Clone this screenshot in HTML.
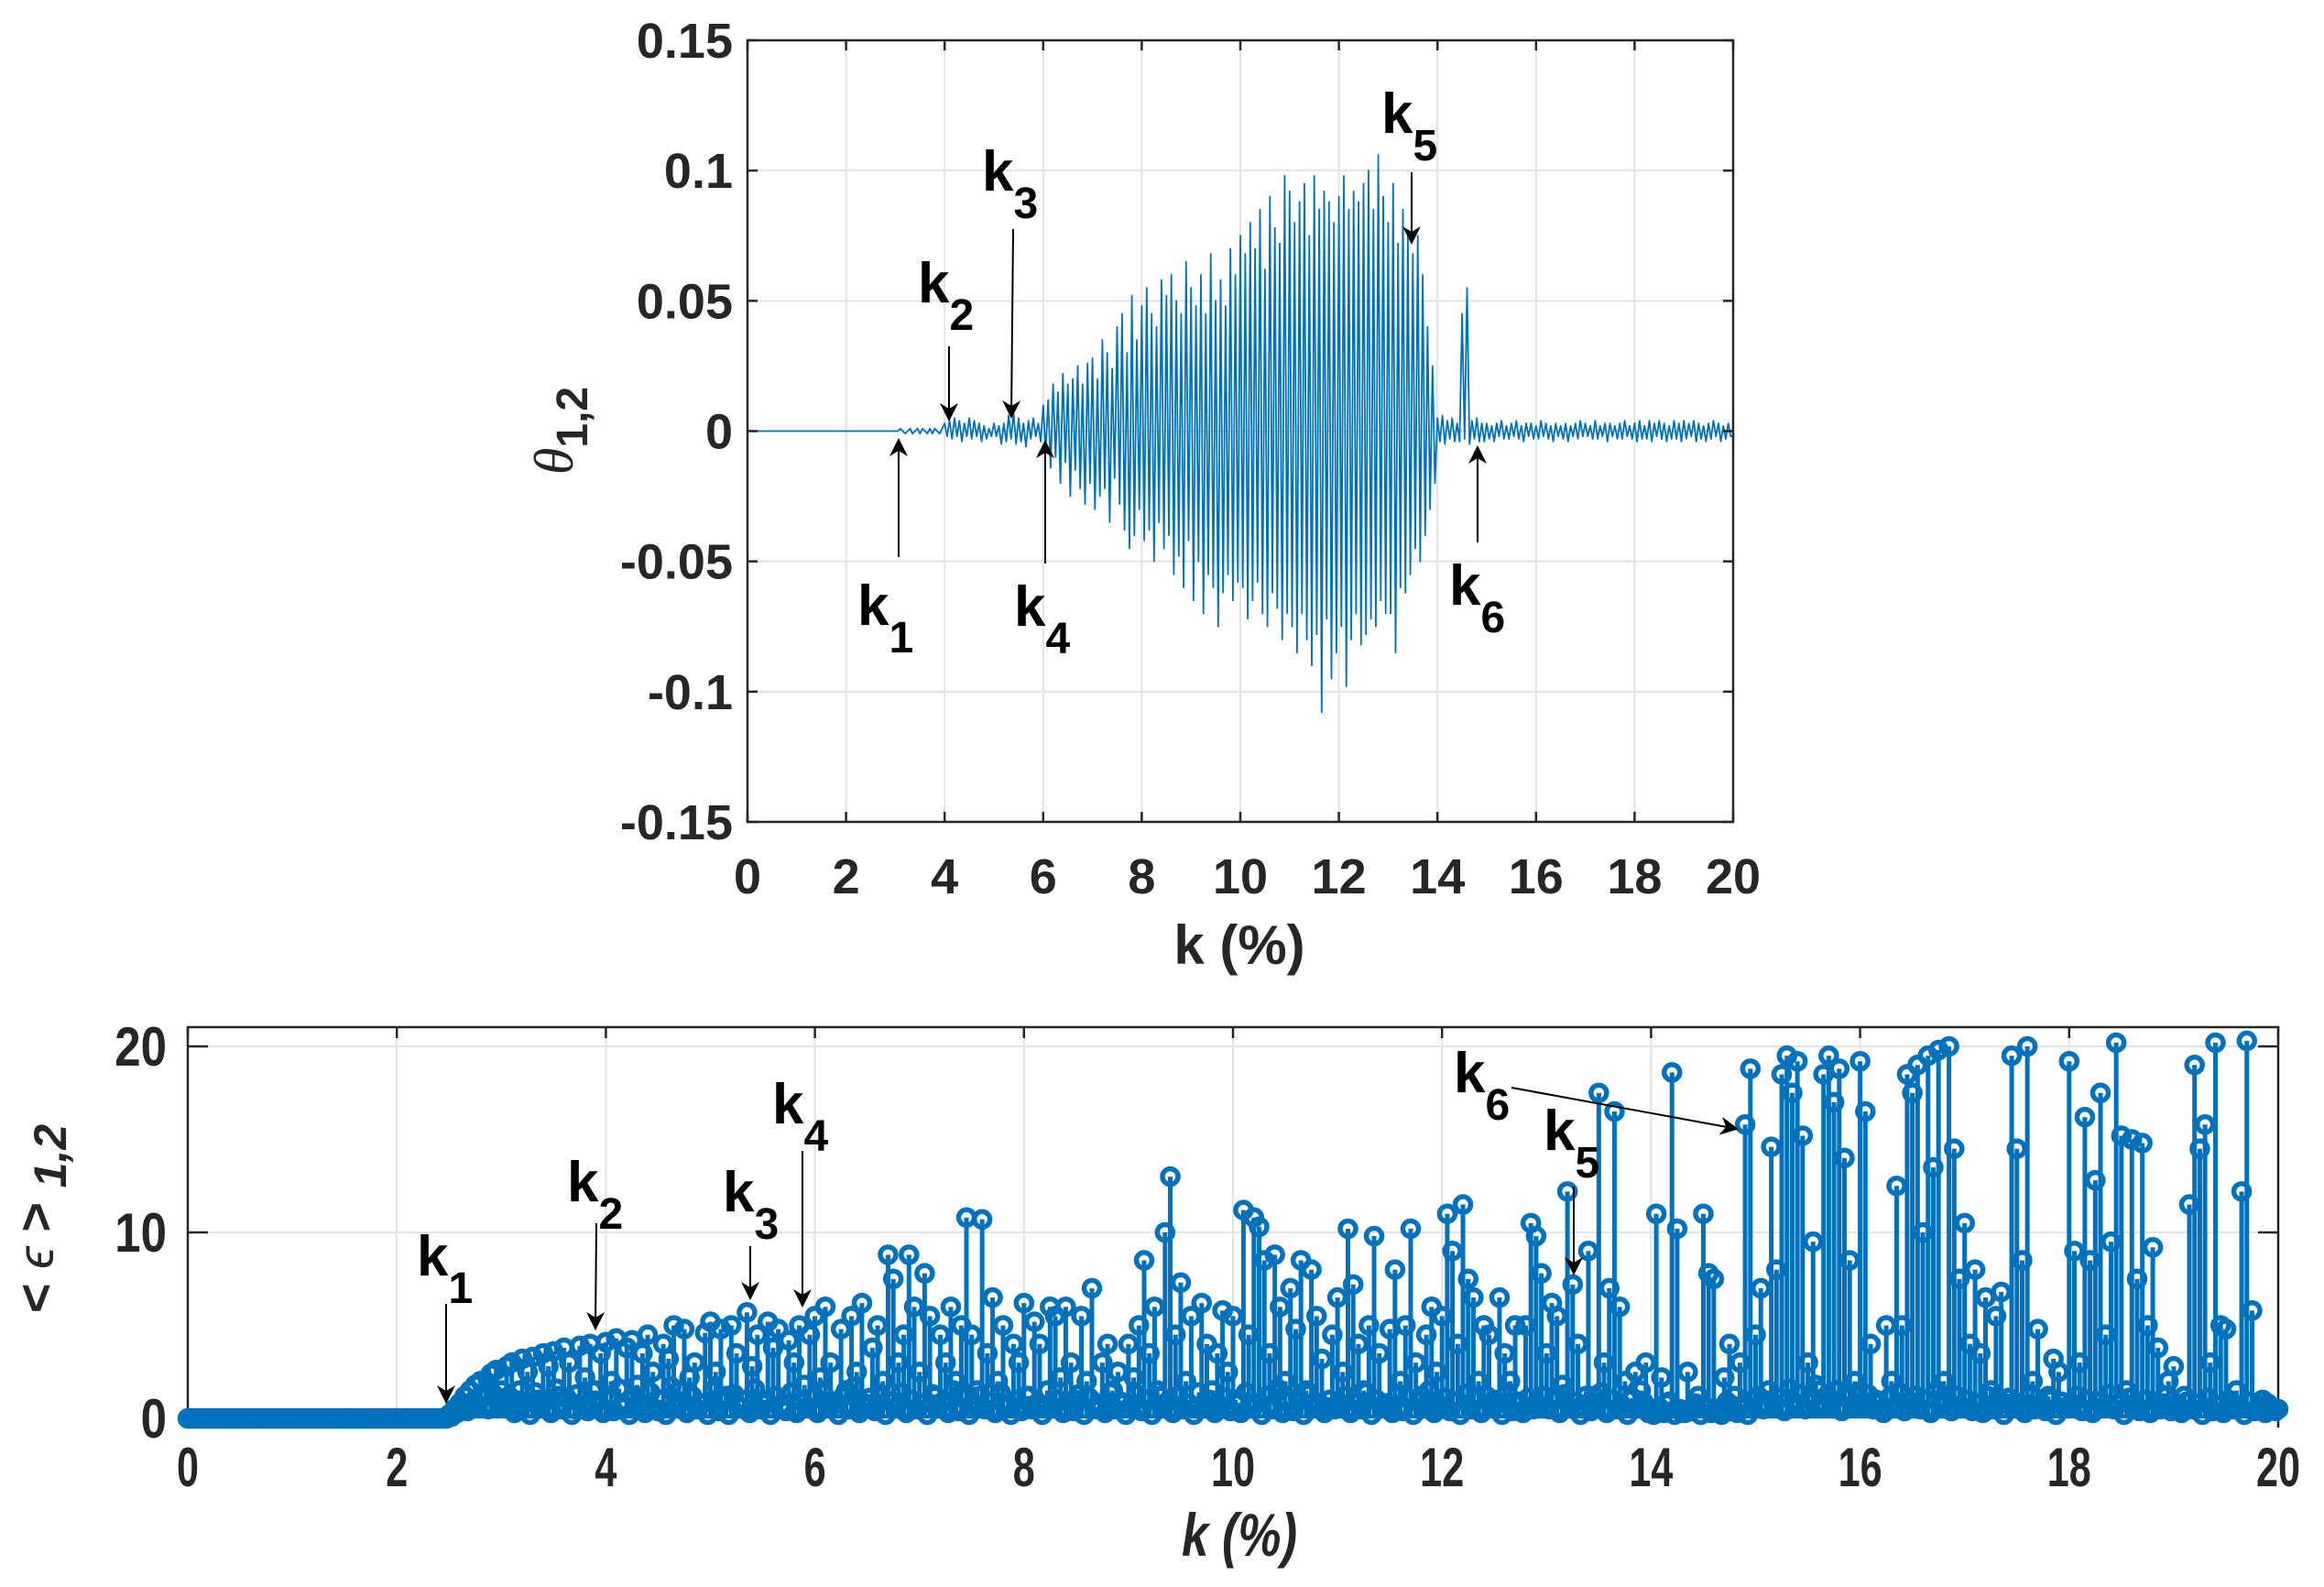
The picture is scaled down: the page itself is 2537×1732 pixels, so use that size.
<!DOCTYPE html>
<html><head><meta charset="utf-8"><style>
html,body{margin:0;padding:0;background:#fff;}
svg{display:block;font-family:"Liberation Sans",Arial,sans-serif;}
</style></head><body>
<svg id="fig" width="2537" height="1732" viewBox="0 0 2537 1732" xmlns="http://www.w3.org/2000/svg">
<defs>
<marker id="ah" viewBox="0 0 10 10" refX="9" refY="5" markerWidth="24" markerHeight="20" orient="auto" markerUnits="userSpaceOnUse">
<path d="M0,0 L10,5 L0,10 L3,5 Z" fill="#000"/>
</marker>
</defs>
<g id="top"></g>
<g id="bot"></g>
</svg>
<script>
// ---------- TOP CHART DATA (theta_1,2 in units of 1e-3, k step 0.05 %) ----------
const thetaStep = 0.05;
const thetaMilli = [
0,0,0,0,0,0,0,0,0,0,0,0,0,0,0,0,0,0,0,0,
0,0,0,0,0,0,0,0,0,0,0,0,0,0,0,0,0,0,0,0,
0,0,0,0,0,0,0,0,0,0,0,0,0,0,0,0,0,0,0,0,
0,0,1,0,-1,0,1,-1,0,1,-1,1,0,-1,1,-1,1,0,-1,1,
3,-2,4,-3,5,-2,4,-4,3,-2,5,-3,4,-2,3,-4,2,-3,1,-2,
3,-2,2,-5,3,-4,6,-3,7,-5,5,-4,3,-6,4,-3,5,-2,3,-4,
10,-8,12,-14,18,-10,15,-20,22,-12,18,-25,20,-15,25,-22,18,-28,26,-20,
28,-30,20,-25,35,-22,30,-35,24,-18,40,-28,45,-38,30,-45,52,-40,35,-30,
48,-42,55,-38,45,-50,40,-35,58,-45,52,-40,60,-55,50,-48,45,-60,65,-42,
55,-65,48,-50,60,-70,45,-55,68,-60,50,-75,58,-62,48,-55,70,-65,60,-58,
75,-60,68,-72,80,-65,70,-58,85,-70,62,-75,90,-62,78,-68,72,-80,98,-70,
92,-75,80,-85,88,-70,95,-80,75,-90,98,-78,85,-108,92,-72,88,-95,80,-85,
90,-75,98,-98,85,-80,92,-70,88,-82,95,-78,100,-72,85,-75,106,-65,90,-70,
80,-70,95,-85,72,-60,85,-62,76,-55,68,-45,75,-50,60,-40,40,-30,25,-20,
5,-4,6,-5,4,-3,5,-4,3,-4,45,-3,55,-5,4,-3,5,-4,3,-4,
3,-3,2,-4,3,-2,4,-3,2,-3,3,-2,4,-3,2,-4,3,-2,3,-3,
2,-3,4,-2,3,-3,2,-4,3,-2,2,-3,3,-4,2,-2,3,-3,4,-2,
3,-2,2,-3,4,-3,2,-2,3,-4,3,-2,2,-3,3,-3,4,-2,2,-3,
3,-4,4,-3,2,-3,4,-4,3,-2,4,-3,3,-4,2,-3,4,-3,3,-4,
4,-3,3,-2,4,-4,3,-3,2,-4,3,-3,4,-2,3,-4,2,-3,3,-2
];
const topXTicks = [0,2,4,6,8,10,12,14,16,18,20];
const topYTicks = [-0.15,-0.1,-0.05,0,0.05,0.1,0.15];
const topYTickLabels = ["-0.15","-0.1","-0.05","0","0.05","0.1","0.15"];

// ---------- BOTTOM CHART DATA ----------
const epsStep = 0.05;
const epsMain = [
0,0,0,0,0,0,0,0,0,0,0,0,0,0,0,0,0,0,0,0,
0,0,0,0,0,0,0,0,0,0,0,0,0,0,0,0,0,0,0,0,
0,0,0,0,0,0,0,0,0,0,
0.2,0.5,0.8,1.2,1.5,1.8,2.0,1.2,2.4,2.6,
1.5,2.8,3.0,0.8,3.2,2.5,3.3,1.0,3.5,2.8,3.6,1.2,3.8,3.0,0.5,3.9,2.2,4.0,1.5,3.5,
4.1,2.0,4.3,0.6,3.8,4.2,1.8,3.5,4.5,2.5,0.4,4.0,3.2,5.0,1.5,4.8,2.2,3.0,0.8,4.6,
5.2,2.5,4.8,1.2,5.0,3.5,0.6,5.7,2.8,4.5,1.0,5.2,3.8,4.8,0.5,4.2,3.0,5.0,1.8,4.5,
5.5,2.2,6.0,3.0,0.8,4.8,1.5,5.5,2.5,6.2,0.6,3.8,5.0,2.0,8.8,7.5,3.0,4.5,8.8,6.0,
2.5,7.8,5.5,1.2,4.5,3.0,6.0,2.0,5.0,10.8,4.5,1.5,10.7,3.5,6.5,2.0,5.0,0.8,4.0,3.0,
6.2,1.2,5.2,4.0,0.6,6.0,5.5,2.2,6.0,3.0,1.0,5.5,2.0,7.0,0.5,3.0,4.0,1.5,2.5,0.8,
4.0,2.2,5.0,8.5,3.5,6.0,1.2,10.0,13.0,4.5,7.3,2.0,5.5,0.6,6.2,4.0,1.5,3.5,5.8,2.5,
5.5,0.8,11.2,4.5,10.8,10.3,8.5,3.5,8.8,6.0,2.0,7.0,4.8,8.5,1.5,8.0,5.5,3.2,0.6,4.5,
6.5,2.5,10.2,7.2,4.0,1.5,5.0,9.8,3.5,0.8,4.8,8.0,2.0,5.0,10.2,3.0,1.2,4.5,6.0,2.5,
5.5,11.0,9.0,4.0,11.5,7.5,6.5,2.0,5.0,4.5,1.0,6.5,3.5,2.0,5.0,0.8,5.0,10.5,9.8,7.8,
3.5,6.2,5.5,1.8,12.2,7.2,4.0,0.6,9.0,1.2,17.5,3.0,7.0,16.5,6.0,2.0,1.0,2.5,1.5,3.0,
0.5,11.0,2.2,0.8,18.6,10.2,0.3,2.5,0.6,1.2,11.0,7.8,7.5,0.4,2.2,4.0,1.2,3.0,15.8,18.8,
4.5,7.0,0.8,14.6,8.0,18.5,19.5,17.5,19.2,15.2,3.0,9.5,1.5,18.5,19.5,17.0,18.8,14.0,8.5,2.0,
19.2,16.5,4.0,1.0,0.5,5.0,2.0,12.5,5.0,18.5,17.5,19.0,10.0,19.5,13.5,19.8,2.0,20.0,14.5,7.5,
10.5,4.0,8.0,3.5,6.5,1.5,5.5,6.8,0.8,19.5,14.5,8.5,20.0,2.0,4.8,0.5,1.2,3.2,2.5,0.6,
19.2,9.0,3.0,16.2,8.5,12.8,17.5,4.5,9.5,20.2,15.2,1.5,15.0,7.5,14.8,5.0,9.2,3.8,0.8,2.0,
2.8,0.5,1.2,11.5,19.0,14.5,15.8,3.0,20.2,5.0,4.8,0.6,1.5,12.2,20.3,5.8,0.5,1.0,0.8,0.5
];
const epsLow = [
0,0,0,0,0,0,0,0,0,0,0,0,0,0,0,0,0,0,0,0,
0,0,0,0,0,0,0,0,0,0,0,0,0,0,0,0,0,0,0,0,
0,0,0,0,0,0,0,0,0,0,
0.1,0.3,0.6,0.4,0.9,0.7,1.1,0.5,1.3,0.9,
0.6,1.2,0.3,1.5,0.8,0.2,1.4,0.6,1.0,0.3,1.6,0.5,1.1,0.2,1.3,0.7,0.4,1.5,0.9,0.3,
1.0,0.4,1.6,0.6,0.2,1.2,0.8,0.3,1.4,0.5,1.0,0.2,1.7,0.6,0.9,0.3,1.2,0.5,0.8,0.2,
1.5,0.4,0.9,0.2,1.3,0.6,1.0,0.3,1.6,0.5,0.8,0.2,1.2,0.7,0.4,1.4,0.3,0.9,0.6,1.1,
0.3,1.5,0.6,0.9,0.2,1.2,0.5,1.7,0.3,0.8,1.1,0.4,1.3,0.2,0.9,0.6,1.4,0.3,1.0,0.5,
0.8,0.2,1.3,0.6,0.9,0.3,1.5,0.4,1.1,0.2,0.7,1.2,0.5,0.9,0.3,1.4,0.6,0.2,1.0,0.4,
1.2,0.5,0.8,0.2,1.5,0.6,1.0,0.3,0.9,0.4,1.3,0.2,1.1,0.6,0.8,0.3,1.4,0.5,0.9,0.2,
0.7,1.3,0.4,1.0,0.2,1.5,0.6,0.9,0.3,1.2,0.5,0.8,0.2,1.4,0.6,1.0,0.3,0.7,1.1,0.4,
1.0,0.3,1.4,0.6,0.8,0.2,1.2,0.5,1.6,0.3,0.9,0.4,1.1,0.2,1.3,0.6,0.8,0.3,1.0,0.5,
0.8,1.2,0.3,0.9,0.5,1.4,0.2,1.0,0.6,0.8,0.3,1.3,0.4,1.1,0.2,0.9,0.6,1.5,0.3,0.7,
1.1,0.4,0.9,0.2,1.3,0.5,1.0,0.3,1.2,0.6,0.8,0.2,1.4,0.4,0.9,0.3,1.1,0.5,0.7,1.2,
0.5,1.0,0.3,1.3,0.6,0.9,0.2,1.2,0.4,0.8,1.4,0.3,1.0,0.5,0.7,0.2,1.1,0.6,0.9,0.3,
0.2,0.6,0.3,0.9,0.2,0.5,0.3,0.4,0.8,0.2,0.6,0.3,0.5,0.2,0.9,0.4,0.3,0.7,0.2,1.0,
1.2,0.5,1.5,0.8,1.1,0.4,1.6,0.7,1.3,0.5,1.0,1.8,0.6,1.2,0.9,1.5,0.4,1.1,0.7,1.4,
0.9,1.3,0.5,0.8,0.3,1.1,0.6,1.4,0.4,0.9,1.2,0.5,1.0,0.3,1.5,0.7,0.9,0.4,1.2,0.6,
1.0,0.4,0.8,0.3,1.2,0.5,0.9,0.2,1.1,0.6,0.8,0.3,1.3,0.5,0.7,0.4,1.0,0.2,0.9,0.6,
0.8,1.2,0.4,1.0,0.3,0.9,0.6,1.3,0.5,0.8,0.2,1.1,0.7,0.4,1.0,0.3,0.9,0.5,1.2,0.4,
0.6,0.3,0.9,0.5,0.8,0.2,1.1,0.4,0.7,0.3,1.0,0.5,0.6,0.2,0.9,0.4,0.7,0.3,0.5,0.4
];
const botXTicks = [0,2,4,6,8,10,12,14,16,18,20];
const botYTicks = [0,10,20];

const NS = "http://www.w3.org/2000/svg";
function mk(parent, tag, attrs, text){
  const e = document.createElementNS(NS, tag);
  for (const k in attrs) e.setAttribute(k, attrs[k]);
  if (text !== undefined) e.textContent = text;
  parent.appendChild(e);
  return e;
}
const BLUE = "#0072BD";

// ===== TOP CHART =====
(function(){
  const g = document.getElementById('top');
  const L=816, R=1892, T=44, B=897;
  const sx = v => L + (v-0)/(20-0)*(R-L);
  const sy = v => B - (v+0.15)/0.3*(B-T);
  topXTicks.forEach(t=>{
    const l = mk(g,'line',{x1:sx(t),x2:sx(t),y1:T,y2:B,stroke:'#e3e3e3','stroke-width':2});
    
    
  });
  topYTicks.forEach(t=>{
    const l = mk(g,'line',{x1:L,x2:R,y1:sy(t),y2:sy(t),stroke:'#e3e3e3','stroke-width':2});
    
    
  });
  let d = '';
  thetaMilli.forEach((v,i)=>{ d += (i?'L':'M') + sx(i*thetaStep).toFixed(1) + ',' + sy(v/1000).toFixed(1); });
  d += 'L' + sx(20).toFixed(1) + ',' + sy(thetaMilli[thetaMilli.length-1]/1000).toFixed(1);
  const p = mk(g,'path',{d:d,fill:'none',stroke:BLUE,'stroke-width':1.8,'stroke-linejoin':'round'});
  
  
  const box = mk(g,'rect',{x:L,y:T,width:R-L,height:B-T,fill:'none',stroke:'#262626','stroke-width':2.5});
  
  
  topXTicks.forEach(t=>{
    mk(g,'line',{x1:sx(t),x2:sx(t),y1:B,y2:B-11,stroke:'#262626','stroke-width':2.5});
    mk(g,'line',{x1:sx(t),x2:sx(t),y1:T,y2:T+11,stroke:'#262626','stroke-width':2.5});
    const tx = mk(g,'text',{x:sx(t),y:975,'text-anchor':'middle','font-size':54,'font-weight':'bold',fill:'#262626'}, String(t));
    
    
  });
  topYTicks.forEach((t,i)=>{
    mk(g,'line',{x1:L,x2:L+11,y1:sy(t),y2:sy(t),stroke:'#262626','stroke-width':2.5});
    mk(g,'line',{x1:R,x2:R-11,y1:sy(t),y2:sy(t),stroke:'#262626','stroke-width':2.5});
    const tx = mk(g,'text',{x:800,y:sy(t)+19,'text-anchor':'end','font-size':54,'font-weight':'bold',fill:'#262626'}, topYTickLabels[i]);
    
    
  });
})();

// ===== BOTTOM CHART =====
(function(){
  const g = document.getElementById('bot');
  const L=205, R=2487, T=1121, Y0=1548, Y20=1142;
  const sx = v => L + v/20*(R-L);
  const sy = v => Y0 - v/20*(Y0-Y20);
  botXTicks.forEach(t=>{
    const l = mk(g,'line',{x1:sx(t),x2:sx(t),y1:T,y2:Y0,stroke:'#e3e3e3','stroke-width':2});
    
    
  });
  botYTicks.forEach(t=>{
    const l = mk(g,'line',{x1:L,x2:R,y1:sy(t),y2:sy(t),stroke:'#e3e3e3','stroke-width':2});
    
    
  });
  const fr = mk(g,'path',{d:`M${L},${Y0+10}V${T}H${R}V${Y0+10}`,fill:'none',stroke:'#262626','stroke-width':2.5});
  
  
  botXTicks.forEach(t=>{ mk(g,'line',{x1:sx(t),x2:sx(t),y1:T,y2:T+12,stroke:'#262626','stroke-width':2.5}); });
  botYTicks.forEach(t=>{
    mk(g,'line',{x1:L,x2:L+22,y1:sy(t),y2:sy(t),stroke:'#262626','stroke-width':2.5});
    mk(g,'line',{x1:R,x2:R-22,y1:sy(t),y2:sy(t),stroke:'#262626','stroke-width':2.5});
  });
  const sg = mk(g,'g',{});
  
  
  function drawStems(arr, off){
    arr.forEach((v,i)=>{
      const x = sx(i*epsStep+off), y = sy(v);
      if (v > 0.05) {
        const s = mk(sg,'line',{x1:x,x2:x,y1:sy(0),y2:y,stroke:BLUE,'stroke-width':5});
        
        
      }
      const c = mk(sg,'circle',{cx:x,cy:y,r:8.5,fill:'none',stroke:BLUE,'stroke-width':5.5});
      
      
    });
  }
  drawStems(epsLow, 0.025);
  drawStems(epsMain, 0);
  drawStems([0.5], 20);
  botXTicks.forEach(t=>{
    const tx = mk(g,'text',{x:0,y:0,'text-anchor':'middle','font-size':60,'font-weight':'bold',fill:'#262626',transform:`translate(${sx(t)},1622) scale(0.72,1)`}, String(t));
    
    
  });
  botYTicks.forEach(t=>{
    const tx = mk(g,'text',{x:0,y:0,'text-anchor':'end','font-size':60,'font-weight':'bold',fill:'#262626',transform:`translate(182,${sy(t)+21}) scale(0.85,1)`}, String(t));
    
    
  });
})();

(function(){
  const svg = document.getElementById('fig');
  const add = (html)=>{ svg.insertAdjacentHTML('beforeend', html); };
  add(`<text x="1353" y="1052" text-anchor="middle" font-size="60" font-weight="bold" fill="#262626">k (%)</text>`);
  add(`<text transform="translate(625,470) rotate(-90)" text-anchor="middle" font-size="60" fill="#262626" font-family="Liberation Serif, serif"><tspan font-style="italic">θ</tspan><tspan font-family="Liberation Sans, sans-serif" font-weight="bold" font-size="48" dy="16">1,2</tspan></text>`);
  add(`<text transform="translate(1353,1698) scale(0.8,1)" text-anchor="middle" font-size="66" font-weight="bold" font-style="italic" fill="#262626">k (%)</text>`);
  add(`<text transform="translate(58,1330) rotate(-90)" text-anchor="middle" font-size="56" font-weight="bold" fill="#262626">&lt; <tspan font-weight="normal" font-style="italic">ϵ</tspan> &gt; <tspan font-style="italic" font-size="50" dy="14">1,2</tspan></text>`);
  const ann = [
    ['1',936,682, 981,608, 981,480],
    ['2',1002,330, 1036,378, 1036,458],
    ['3',1072,208, 1106,250, 1104,455],
    ['4',1107,683, 1141,615, 1141,482],
    ['5',1508,145, 1541,188, 1541,265],
    ['6',1582,660, 1613,592, 1613,488],
    ['1',455,1392, 487,1423, 487,1530],
    ['2',619,1311, 651,1335, 650,1450],
    ['3',789,1322, 819,1360, 819,1417],
    ['4',843,1226, 876,1256, 876,1425],
    ['5',1685,1255, 1718,1295, 1718,1390],
    ['6',1587,1192, 1650,1187, 1896,1232]
  ];
  ann.forEach((a)=>{
    add(`<g><text x="${a[1]}" y="${a[2]}" font-size="62" font-weight="bold" fill="#000">k<tspan font-size="48" dy="30">${a[0]}</tspan></text><line x1="${a[3]}" y1="${a[4]}" x2="${a[5]}" y2="${a[6]}" stroke="#000" stroke-width="2" marker-end="url(#ah)"/></g>`);
  });
})();
</script>
</body></html>
